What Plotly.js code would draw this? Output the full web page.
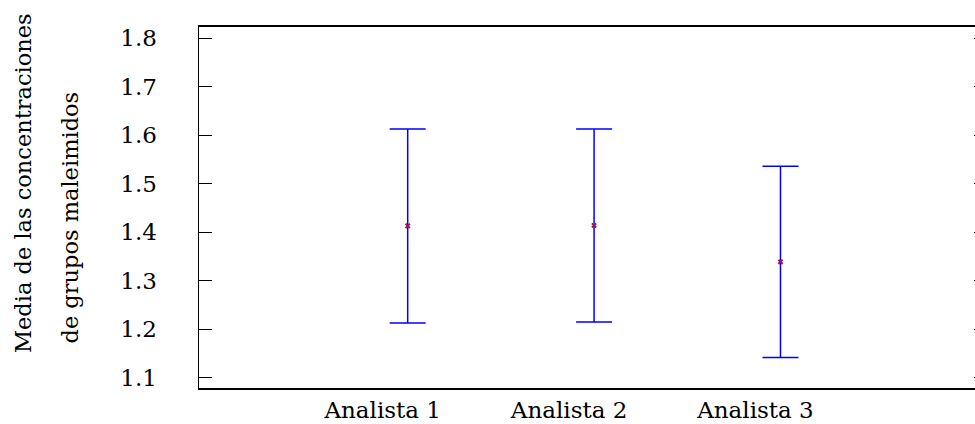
<!DOCTYPE html>
<html>
<head>
<meta charset="utf-8">
<script src="https://cdn.plot.ly/plotly-3.0.1.min.js"></script>
<style>
html, body { margin: 0; padding: 0; overflow: hidden; background: #fff; width: 975px; height: 424px; }
#chart { width: 1000px; height: 424px; }
</style>
</head>
<body>
<div id="chart"></div>
<script>
const categories = ["Analista 1", "Analista 2", "Analista 3"];
const means = [1.413, 1.414, 1.339];
const errors = [0.200, 0.199, 0.197];
const yTickVals = [1.1, 1.2, 1.3, 1.4, 1.5, 1.6, 1.7, 1.8];
const yTitleLines = ["Media de las concentraciones", "de grupos maleimidos"];

const FONT = "DejaVu Serif";

const trace = {
  type: "scatter",
  mode: "markers",
  x: categories,
  y: means,
  marker: { symbol: "x", size: 5, color: "#a0145a" },
  error_y: {
    type: "data",
    array: errors,
    visible: true,
    color: "#0000ff",
    thickness: 1.5,
    width: 18
  },
  showlegend: false,
  hoverinfo: "skip"
};

const layout = {
  width: 1000,
  height: 424,
  margin: { l: 199, r: 13, t: 27, b: 36, pad: 0 },
  paper_bgcolor: "#ffffff",
  plot_bgcolor: "#ffffff",
  font: { family: FONT, size: 23, color: "#000" },
  xaxis: {
    type: "category",
    range: [-1.1196, 3.108],
    showgrid: false,
    zeroline: false,
    showline: true,
    mirror: true,
    linecolor: "#000",
    linewidth: 2,
    ticks: "",
    ticklabelshift: -25,
    ticklabelstandoff: 0,
    tickfont: { family: FONT, size: 23, color: "#000" }
  },
  yaxis: {
    range: [1.079, 1.823],
    tickvals: yTickVals,
    ticktext: yTickVals.map(v => v.toFixed(1)),
    showgrid: false,
    zeroline: false,
    showline: true,
    mirror: "ticks",
    linecolor: "#000",
    linewidth: 1.5,
    ticks: "inside",
    ticklen: 13,
    tickwidth: 1,
    tickcolor: "#000",
    ticklabelstandoff: 36,
    tickfont: { family: FONT, size: 23, color: "#000" }
  },
  annotations: [
    {
      text: yTitleLines[0], xref: "paper", yref: "paper",
      x: (23 - 199) / 788, y: (388 - 183) / 361,
      xanchor: "center", yanchor: "middle", textangle: -90,
      showarrow: false, font: { family: FONT, size: 22.5, color: "#000" }
    },
    {
      text: yTitleLines[1], xref: "paper", yref: "paper",
      x: (70 - 199) / 788, y: (388 - 217.5) / 361,
      xanchor: "center", yanchor: "middle", textangle: -90,
      showarrow: false, font: { family: FONT, size: 22.5, color: "#000" }
    }
  ]
};

Plotly.newPlot("chart", [trace], layout, { displayModeBar: false, staticPlot: true });
</script>
</body>
</html>
